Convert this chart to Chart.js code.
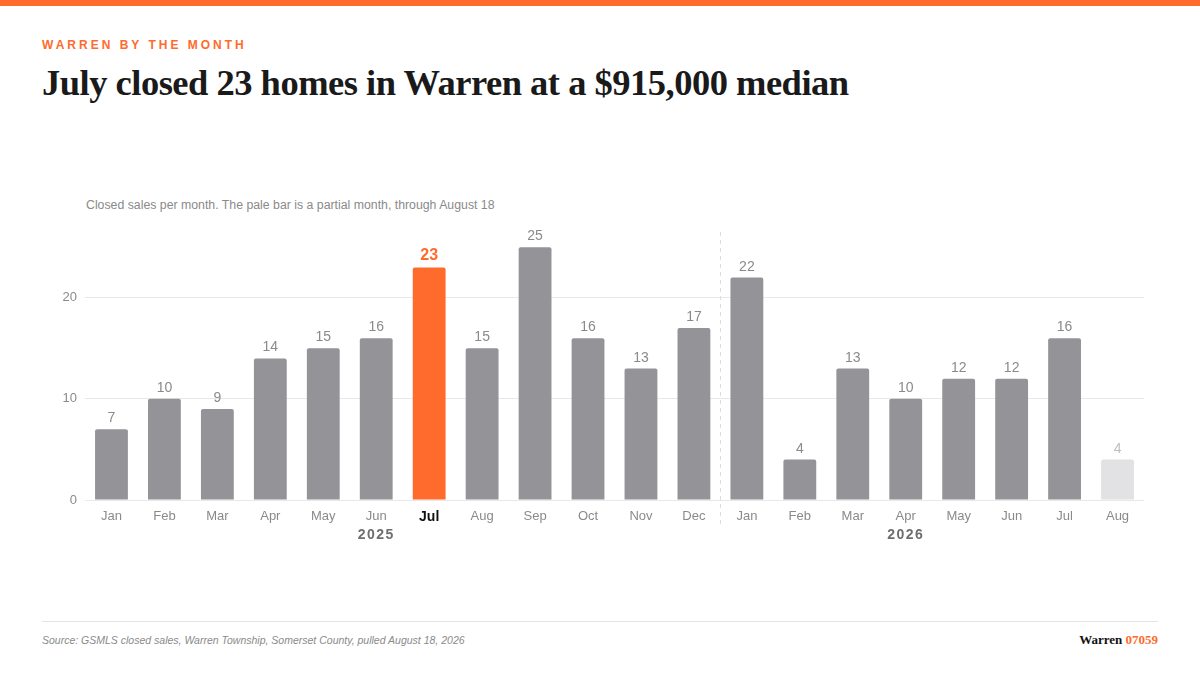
<!DOCTYPE html>
<html>
<head>
<meta charset="utf-8">
<script src="https://cdn.jsdelivr.net/npm/chart.js@4.4.1/dist/chart.umd.min.js"></script>
<style>
  body { margin: 0; width: 1200px; height: 675px; background: #fff; position: relative; overflow: hidden; font-family: "Liberation Sans", Arial, sans-serif; }
  .topbar { position: absolute; left: 0; top: 0; width: 1200px; height: 6px; background: #ff6b2c; }
  .kicker { position: absolute; left: 42px; top: 38px; font-size: 12px; font-weight: bold; letter-spacing: 3px; color: #ff6b2c; }
  h1 { position: absolute; left: 42px; top: 61px; margin: 0; font-family: "Liberation Serif", "Times New Roman", serif; font-size: 36.5px; font-weight: bold; color: #1a1a1a; letter-spacing: -0.5px; }
  .sub { position: absolute; left: 86px; top: 198px; font-size: 12.3px; color: #8a8a8a; }
  .chartbox { position: absolute; left: 40px; top: 215px; width: 1120px; height: 330px; }
  .rule { position: absolute; left: 42px; top: 621px; width: 1116px; height: 1px; background: #e4e4e4; }
  .source { position: absolute; left: 42px; top: 634px; font-size: 10.5px; font-style: italic; color: #8a8a8a; }
  .brand { position: absolute; right: 42px; top: 632px; font-family: "Liberation Serif", serif; font-weight: bold; font-size: 13px; color: #111; }
  .brand span { color: #ff6b2c; }
</style>
</head>
<body>
<div class="topbar"></div>
<div class="kicker">WARREN BY THE MONTH</div>
<h1>July closed 23 homes in Warren at a $915,000 median</h1>
<div class="sub">Closed sales per month. The pale bar is a partial month, through August 18</div>
<div class="chartbox"><canvas id="myChart"></canvas></div>
<div class="rule"></div>
<div class="source">Source: GSMLS closed sales, Warren Township, Somerset County, pulled August 18, 2026</div>
<div class="brand">Warren <span>07059</span></div>
<script>
const months = ['Jan','Feb','Mar','Apr','May','Jun','Jul','Aug','Sep','Oct','Nov','Dec',
                'Jan','Feb','Mar','Apr','May','Jun','Jul','Aug'];
const sales = [7, 10, 9, 14, 15, 16, 23, 15, 25, 16, 13, 17,
               22, 4, 13, 10, 12, 12, 16, 4];
const yearLabels = [{ text: '2025', at: 5 }, { text: '2026', at: 15 }];
const yTicks = [0, 10, 20];
const highlight = 6;   // Jul 2025
const partial = 19;    // Aug 2026

const orange = '#ff6b2c';
const gray = '#949398';
const pale = '#e2e2e4';

const barColors = sales.map((v, i) => i === highlight ? orange : (i === partial ? pale : gray));

// value labels, year labels and the year divider
const extras = {
    id: 'extras',
    afterDatasetsDraw(chart) {
        const ctx = chart.ctx;
        const meta = chart.getDatasetMeta(0);
        ctx.save();
        ctx.textAlign = 'center';
        ctx.textBaseline = 'alphabetic';
        meta.data.forEach((bar, i) => {
            if (i === highlight) {
                ctx.font = 'bold 16px "Liberation Sans", Arial, sans-serif';
                ctx.fillStyle = orange;
            } else {
                ctx.font = '14px "Liberation Sans", Arial, sans-serif';
                ctx.fillStyle = i === partial ? '#bdbdbd' : '#8a8a8a';
            }
            ctx.fillText(sales[i], bar.x, bar.y - 7);
        });
        const area = chart.chartArea;
        const x = chart.scales.x;
        // dashed divider between Dec and Jan
        const dx = (x.getPixelForValue(11) + x.getPixelForValue(12)) / 2;
        ctx.strokeStyle = '#dcdcdc';
        ctx.lineWidth = 1;
        ctx.setLineDash([4, 4]);
        ctx.beginPath();
        ctx.moveTo(Math.round(dx) + 0.5, area.top);
        ctx.lineTo(Math.round(dx) + 0.5, area.bottom + 26);
        ctx.stroke();
        ctx.setLineDash([]);
        ctx.font = 'bold 14px "Liberation Sans", Arial, sans-serif';
        ctx.fillStyle = '#6e6e6e';
        ctx.letterSpacing = '1.5px';
        yearLabels.forEach(y => {
            ctx.fillText(y.text, x.getPixelForValue(y.at), area.bottom + 39);
        });
        ctx.restore();
    }
};

const config = {
    type: 'bar',
    data: {
        labels: months,
        datasets: [{
            data: sales,
            backgroundColor: barColors,
            borderRadius: 2,
            borderSkipped: 'bottom',
            categoryPercentage: 1,
            barPercentage: 0.62
        }]
    },
    options: {
        responsive: true,
        maintainAspectRatio: false,
        animation: false,
        layout: { padding: { top: 17, right: 16, left: 0, bottom: 0 } },
        plugins: { legend: { display: false }, tooltip: { enabled: false } },
        scales: {
            x: {
                grid: { display: false, drawTicks: false },
                border: { display: false },
                ticks: {
                    padding: 9,
                    color: ctx => ctx.index === highlight ? '#111' : '#8a8a8a',
                    font: ctx => ctx.index === highlight
                        ? { family: '"Liberation Sans", Arial, sans-serif', size: 14, weight: 'bold' }
                        : { family: '"Liberation Sans", Arial, sans-serif', size: 13 }
                },
                afterFit(scale) { scale.height = 45; }
            },
            y: {
                min: 0,
                max: Math.max(...sales) * 1.06,
                afterBuildTicks(scale) { scale.ticks = yTicks.map(v => ({ value: v })); },
                grid: { color: '#e8e8e8', drawTicks: false },
                border: { display: false },
                ticks: {
                    padding: 8,
                    color: '#8a8a8a',
                    font: { family: '"Liberation Sans", Arial, sans-serif', size: 13 }
                },
                afterFit(scale) { scale.width = 45; }
            }
        }
    },
    plugins: [extras]
};

const chart = new Chart(document.getElementById('myChart'), config);
</script>
</body>
</html>
